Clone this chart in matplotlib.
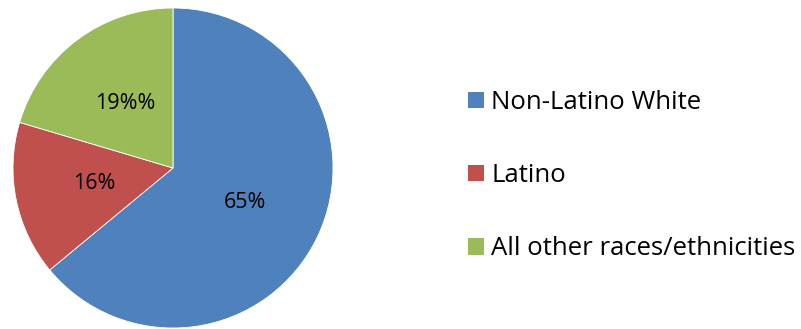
import matplotlib
matplotlib.use("Agg")
import matplotlib.pyplot as plt
from matplotlib.patches import Patch

categories = ["Non-Latino White", "Latino", "All other races/ethnicities"]
# slice sizes as drawn in the reference (labels below are printed as shown)
values = [64.0, 15.6, 20.4]
pct_labels = ["65%", "16%", "19%%"]
colors = ["#4F81BD", "#C0504D", "#9BBB59"]

plt.rcParams['font.family'] = ['Open Sans', 'DejaVu Sans']

fig = plt.figure(figsize=(8.01, 3.29), dpi=100)
ax = fig.add_axes([13/801, 1/329, 320/801, 320/329])
it = iter(pct_labels)
wedges, texts, autotexts = ax.pie(values, colors=colors, startangle=90, counterclock=False,
                                  autopct=lambda p: next(it), pctdistance=0.5,
                                  textprops=dict(fontsize=15.5, color='black'),
                                  wedgeprops=dict(linewidth=0.6, edgecolor='white'))
ax.set_xlim(-1, 1)
ax.set_ylim(-1, 1)
ax.set_aspect('equal')

handles = [Patch(facecolor=c, edgecolor='none') for c in colors]
fig.legend(handles, categories, loc='center left', bbox_to_anchor=(458/801, 0.466),
           frameon=False, fontsize=18.5, handlelength=0.62, handleheight=0.62,
           handletextpad=0.28, labelspacing=1.88, borderaxespad=0)

fig.savefig("out.png", dpi=100)
